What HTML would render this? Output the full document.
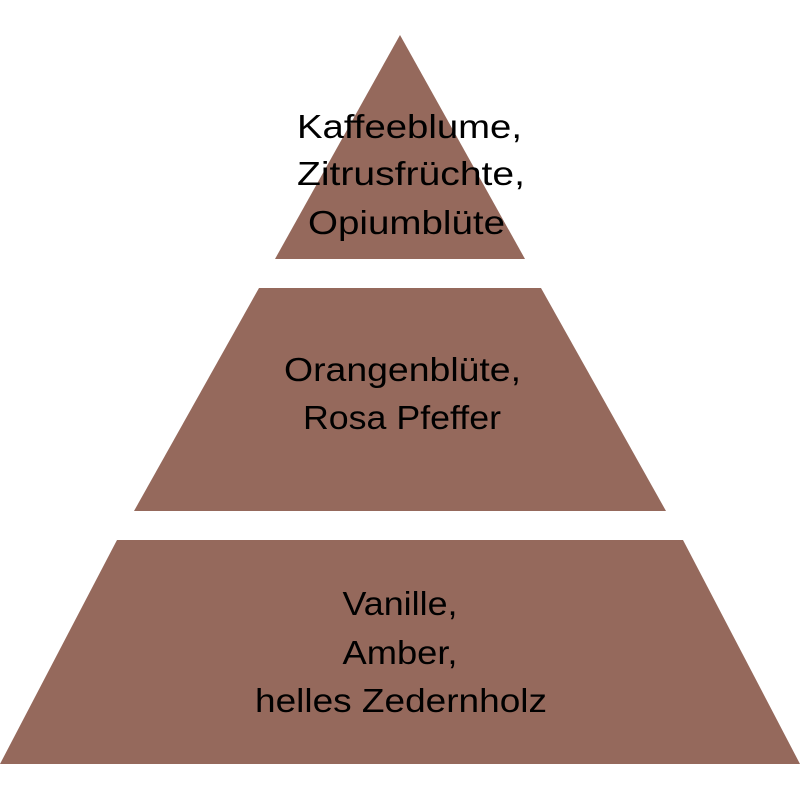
<!DOCTYPE html>
<html><head><style>
body{margin:0;background:#fff;width:800px;height:800px;overflow:hidden}
</style></head><body>
<svg width="800" height="800" viewBox="0 0 800 800" xmlns="http://www.w3.org/2000/svg">
<g fill="#95695c">
<polygon points="400,35 525,259 275,259"/>
<polygon points="259,288 541,288 666,511 134,511"/>
<polygon points="117,540 683,540 800,764 0,764"/>
</g>
<g font-family="Liberation Sans, sans-serif" font-size="33" fill="#000" text-anchor="middle">
<text x="409.5" y="138" textLength="225" lengthAdjust="spacingAndGlyphs">Kaffeeblume,</text>
<text x="411" y="185" textLength="228" lengthAdjust="spacingAndGlyphs">Zitrusfrüchte,</text>
<text x="406.5" y="234" textLength="197" lengthAdjust="spacingAndGlyphs">Opiumblüte</text>
<text x="402.5" y="381" textLength="237" lengthAdjust="spacingAndGlyphs">Orangenblüte,</text>
<text x="402" y="429" textLength="198" lengthAdjust="spacingAndGlyphs">Rosa Pfeffer</text>
<text x="400" y="615" textLength="115" lengthAdjust="spacingAndGlyphs">Vanille,</text>
<text x="400" y="664" textLength="115" lengthAdjust="spacingAndGlyphs">Amber,</text>
<text x="401" y="712" textLength="292" lengthAdjust="spacingAndGlyphs">helles Zedernholz</text>
</g>
</svg>
</body></html>
